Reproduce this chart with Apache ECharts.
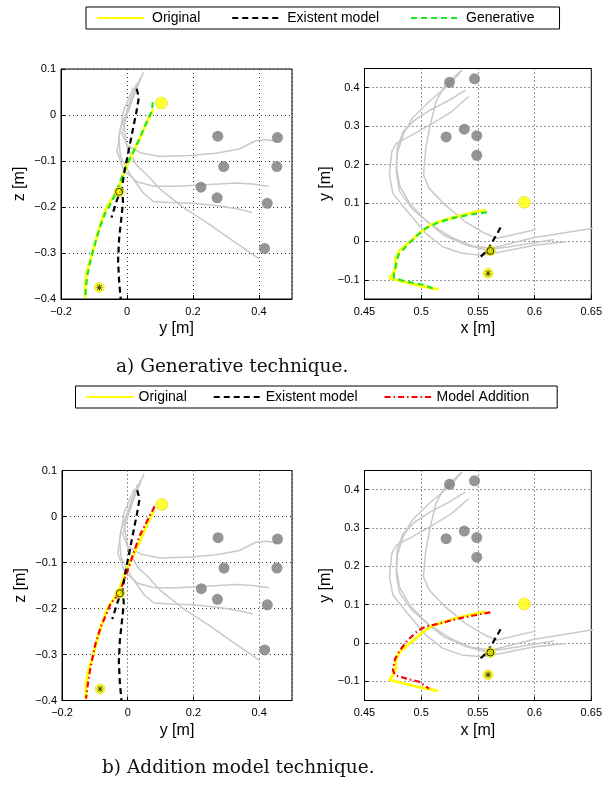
<!DOCTYPE html>
<html><head><meta charset="utf-8">
<script src="https://cdn.jsdelivr.net/npm/echarts@6/dist/echarts.min.js"></script>
<style>html,body{margin:0;padding:0;background:#fff}#c{width:605px;height:785px}</style>
</head><body><div id="c"></div>
<script>
// ---------- Left panels: y [m] vs z [m] ----------
const yzObstacles = [[0.275,-0.046],[0.456,-0.049],[0.293,-0.112],[0.454,-0.112],[0.224,-0.157],[0.273,-0.180],[0.425,-0.192],[0.417,-0.290]];
const yzStart = [[0.104,0.026]];
const yzGoal = [[-0.084,-0.375]];
const yzVia = [[-0.024,-0.167]];
const yzGray1 = [[0.050,0.093],[0.025,0.050],[0.000,0.000],[-0.015,-0.040],[0.000,-0.065],[0.040,-0.082],[0.100,-0.090],[0.190,-0.088],[0.270,-0.083],[0.340,-0.074],[0.390,-0.056],[0.425,-0.054],[0.456,-0.058]];
const yzGray2 = [[0.030,0.070],[0.005,0.020],[-0.020,-0.030],[-0.030,-0.080],[-0.010,-0.120],[0.030,-0.145],[0.080,-0.155],[0.150,-0.155],[0.250,-0.151],[0.330,-0.148],[0.380,-0.150],[0.429,-0.155]];
const yzGray3 = [[0.020,0.060],[-0.010,0.010],[-0.025,-0.050],[-0.020,-0.090],[0.010,-0.130],[0.050,-0.170],[0.080,-0.188],[0.130,-0.190],[0.200,-0.192],[0.280,-0.198],[0.340,-0.205],[0.380,-0.212]];
const yzGray4 = [[0.040,0.080],[0.010,0.030],[-0.010,-0.020],[0.000,-0.070],[0.030,-0.110],[0.060,-0.130],[0.100,-0.161],[0.170,-0.201],[0.240,-0.233],[0.320,-0.273],[0.400,-0.312]];
const yzOriginal = [[0.080,0.013],[0.060,-0.016],[0.040,-0.049],[0.019,-0.081],[0.004,-0.103],[-0.011,-0.128],[-0.026,-0.161],[-0.042,-0.179],[-0.062,-0.201],[-0.077,-0.230],[-0.092,-0.266],[-0.108,-0.309],[-0.121,-0.338],[-0.127,-0.367],[-0.127,-0.396]];
const yzExistent = [[0.029,0.057],[0.036,0.038],[0.029,0.009],[0.019,-0.027],[0.009,-0.063],[-0.001,-0.099],[-0.009,-0.128],[-0.015,-0.157],[-0.012,-0.190],[-0.018,-0.230],[-0.024,-0.270],[-0.027,-0.317],[-0.024,-0.360],[-0.019,-0.401]];
const yzExistentBranch = [[-0.015,-0.157],[-0.031,-0.186],[-0.047,-0.223]];
const yzGenerative = [[0.078,0.028],[0.076,0.010],[0.055,-0.023],[0.035,-0.056],[0.014,-0.088],[-0.003,-0.110],[-0.016,-0.136],[-0.031,-0.164],[-0.047,-0.190],[-0.067,-0.215],[-0.082,-0.244],[-0.097,-0.280],[-0.111,-0.317],[-0.121,-0.353],[-0.127,-0.396]];
const yzAddition = [[0.082,0.022],[0.060,-0.008],[0.035,-0.044],[0.019,-0.077],[0.004,-0.109],[-0.011,-0.138],[-0.026,-0.168],[-0.052,-0.189],[-0.062,-0.207],[-0.082,-0.240],[-0.098,-0.276],[-0.113,-0.327],[-0.121,-0.363],[-0.127,-0.396]];

// ---------- Right panels: x [m] vs y [m] ----------
const xyObstacles = [[0.525,0.414],[0.547,0.423],[0.538,0.292],[0.522,0.272],[0.549,0.275],[0.549,0.224]];
const xyStart = [[0.591,0.102]];
const xyGoal = [[0.559,-0.083]];
const xyVia = [[0.561,-0.025]];
const xyGray1 = [[0.536,0.446],[0.521,0.407],[0.513,0.364],[0.508,0.303],[0.504,0.242],[0.502,0.173],[0.507,0.138],[0.521,0.095],[0.539,0.051],[0.556,0.021],[0.567,0.008],[0.585,0.020],[0.601,0.031]];
const xyGray2 = [[0.542,0.377],[0.527,0.338],[0.510,0.307],[0.492,0.277],[0.478,0.255],[0.474,0.233],[0.472,0.173],[0.475,0.125],[0.487,0.081],[0.504,0.021],[0.519,-0.014],[0.536,-0.031],[0.553,-0.036],[0.571,-0.027],[0.600,-0.010],[0.628,-0.001]];
const xyGray3 = [[0.539,0.394],[0.525,0.368],[0.508,0.342],[0.494,0.315],[0.484,0.285],[0.479,0.245],[0.478,0.195],[0.481,0.145],[0.490,0.098],[0.505,0.052],[0.520,0.016],[0.540,-0.010],[0.557,-0.022],[0.575,-0.015],[0.617,0.005]];
const xyGray4 = [[0.536,0.446],[0.526,0.411],[0.507,0.364],[0.492,0.320],[0.484,0.277],[0.479,0.230],[0.478,0.180],[0.481,0.130],[0.492,0.085],[0.508,0.045],[0.527,0.010],[0.545,-0.012],[0.562,-0.018],[0.600,0.010],[0.655,0.036]];
const xyOriginal = [[0.557,0.082],[0.545,0.075],[0.530,0.064],[0.519,0.054],[0.509,0.044],[0.500,0.025],[0.490,-0.001],[0.481,-0.023],[0.477,-0.049],[0.478,-0.066],[0.475,-0.084],[0.472,-0.096],[0.484,-0.105],[0.499,-0.116],[0.515,-0.125]];
const xyExistent = [[0.570,0.036],[0.566,0.015],[0.562,-0.005],[0.559,-0.020],[0.556,-0.028],[0.564,-0.032],[0.562,-0.022],[0.556,-0.030],[0.551,-0.044]];
const xyGenerative = [[0.558,0.076],[0.542,0.069],[0.527,0.060],[0.515,0.049],[0.504,0.034],[0.497,0.017],[0.488,-0.009],[0.480,-0.035],[0.478,-0.057],[0.476,-0.084],[0.476,-0.096],[0.487,-0.105],[0.502,-0.113],[0.512,-0.125]];
const xyAddition = [[0.561,0.080],[0.550,0.074],[0.533,0.064],[0.515,0.050],[0.504,0.043],[0.497,0.032],[0.488,0.007],[0.481,-0.020],[0.477,-0.041],[0.475,-0.071],[0.477,-0.084],[0.487,-0.093],[0.498,-0.101],[0.507,-0.119]];

// ---------- Ticks and text ----------
const xyYTicks = [-0.1, 0, 0.1, 0.2, 0.3, 0.4];
const legendTop = ['Original','Existent model','Generative'];
const legendBottom = ['Original','Existent model','Model Addition'];
const captions = ['a) Generative technique.','b) Addition model technique.'];
const axisNames = {yz:['y [m]','z [m]'], xy:['x [m]','y [m]']};

const FONT = 'Liberation Sans';
const fmt = v => { const r = Math.round(v*1000)/1000; return String(r).replace('-', '\u2212'); };
const STAR = 'path://M9,0H11V20H9Z M0,9H20V11H0Z M2.2,3.6L3.6,2.2L17.8,16.4L16.4,17.8Z M16.4,2.2L17.8,3.6L3.6,17.8L2.2,16.4Z';

const grids = [
  {left:61, top:69, width:231, height:230},
  {left:364.5, top:68.5, width:231, height:230.5},
  {left:62, top:470.5, width:230, height:230},
  {left:364.5, top:470.5, width:231, height:230}
];
grids.forEach(g => Object.assign(g, {show:true, borderColor:'#000', borderWidth:1, containLabel:false}));

function xAx(gi, min, max, interval, name) {
  return {type:'value', gridIndex:gi, min, max, interval, name, nameLocation:'middle', nameGap:22,
    nameTextStyle:{fontSize:16, color:'#000', fontFamily:FONT},
    axisLine:{show:true, onZero:false, lineStyle:{color:'#000', width:1}},
    axisTick:{show:true, inside:true, length:4, lineStyle:{color:'#000'}},
    axisLabel:{color:'#000', fontSize:11, fontFamily:FONT, margin:7, formatter:fmt},
    splitLine:{show:true, lineStyle:{color:'#333', type:[1,3], width:1}}};
}
function yAx(gi, min, max, interval, name, gap) {
  const a = xAx(gi, min, max, interval, name);
  a.nameGap = gap; a.axisLabel.margin = 5;
  return a;
}

const xAxis = [
  xAx(0,-0.2,0.5,0.2,axisNames.yz[0]),
  xAx(1,0.45,0.65,0.05,axisNames.xy[0]),
  xAx(2,-0.2,0.5,0.2,axisNames.yz[0]),
  xAx(3,0.45,0.65,0.05,axisNames.xy[0])
];
xAxis[0].axisLabel.showMaxLabel = false;
xAxis[2].axisLabel.showMaxLabel = false;
const yAxis = [
  yAx(0,-0.4,0.1,0.1,axisNames.yz[1],33),
  yAx(1,-0.15,0.45,0.05,axisNames.xy[1],31),
  yAx(2,-0.4,0.1,0.1,axisNames.yz[1],33),
  yAx(3,-0.15,0.45,0.05,axisNames.xy[1],31)
];
[1,3].forEach(i => {
  yAxis[i].axisLabel.customValues = xyYTicks;
  yAxis[i].axisTick.customValues = xyYTicks;
  yAxis[i].splitLine.customValues = xyYTicks;
});

function line(name, data, g, color, width, dash, z) {
  return {type:'line', name, data, xAxisIndex:g, yAxisIndex:g, symbol:'none', showSymbol:false,
    lineStyle:{color, width, type:dash || 'solid'}, itemStyle:{color}, z, silent:true, clip:true};
}
function dots(data, g, size, color, border, bw, z, symbol) {
  return {type:'scatter', data, xAxisIndex:g, yAxisIndex:g, symbol:symbol || 'circle', symbolSize:size,
    itemStyle:{color, borderColor:border, borderWidth:bw}, z, silent:true, clip:false};
}

const GRAY = '#c9c9c9', OBST = '#7a7a7a', YEL = '#ffff00';
const DASH = [6,4], DASHDOT = [6,3,1.5,3];

const series = [];
function panel(g, d) {
  d.gray.forEach(a => series.push(line('', a, g, GRAY, 1.5, null, 1)));
  series.push(dots(d.obst, g, 11, OBST, OBST, 0, 2));
  series.push(line('Original', d.orig, g, YEL, 2.8, null, 3));
  series.push(line(d.thirdName, d.third, g, d.thirdColor, 2.2, d.thirdDash, 4));
  d.exist.forEach(a => series.push(line('Existent model', a, g, '#000', 2.2, DASH, 5)));
  series.push(dots(d.start, g, 12, YEL, '#d0d000', 0.6, 6));
  series.push(dots(d.goal, g, 10, YEL, '#d0d000', 0.6, 6));
  series.push(dots(d.goal, g, 7, '#000', '#000', 0, 7, STAR));
  series.push(dots(d.via, g, 10, YEL, '#d0d000', 0.6, 6));
  series.push(dots(d.via, g, 7, 'rgba(0,0,0,0)', '#000', 1, 7));
}
const yzBase = {gray:[yzGray1,yzGray2,yzGray3,yzGray4], obst:yzObstacles, orig:yzOriginal, exist:[yzExistent,yzExistentBranch], start:yzStart, goal:yzGoal, via:yzVia};
const xyBase = {gray:[xyGray1,xyGray2,xyGray3,xyGray4], obst:xyObstacles, orig:xyOriginal, exist:[xyExistent], start:xyStart, goal:xyGoal, via:xyVia};
panel(0, Object.assign({}, yzBase, {third:yzGenerative, thirdName:'Generative', thirdColor:'#1ee81e', thirdDash:DASH}));
panel(1, Object.assign({}, xyBase, {third:xyGenerative, thirdName:'Generative', thirdColor:'#1ee81e', thirdDash:DASH}));
panel(2, Object.assign({}, yzBase, {third:yzAddition, thirdName:'Model Addition', thirdColor:'#ff0000', thirdDash:DASHDOT}));
panel(3, Object.assign({}, xyBase, {third:xyAddition, thirdName:'Model Addition', thirdColor:'#ff0000', thirdDash:DASHDOT}));

function legend(data, left, top, gap, textPad, rightPad) {
  return {data, left, top, orient:'horizontal', itemWidth:47, itemHeight:14, itemGap:gap,
    padding:[4,rightPad,4,10], borderColor:'#000', borderWidth:1, backgroundColor:'#fff', selectedMode:false,
    itemStyle:{opacity:0, borderWidth:0},
    textStyle:{fontSize:14, fontFamily:FONT, color:'#000', padding:[0,0,0,textPad]}};
}

const chart = echarts.init(document.getElementById('c'), null, {renderer:'canvas'});
chart.setOption({
  animation:false,
  backgroundColor:'#fff',
  title:[
    {text:captions[0], left:116, top:358, padding:0, textStyle:{fontFamily:'DejaVu Serif', fontSize:18.5, fontWeight:'normal', color:'#111'}},
    {text:captions[1], left:102, top:759, padding:0, textStyle:{fontFamily:'DejaVu Serif', fontSize:18.5, fontWeight:'normal', color:'#111'}}
  ],
  legend:[legend(legendTop, 86, 7, 31, 3, 25), legend(legendBottom, 75.5, 386, 26, 0, 28)],
  grid:grids, xAxis, yAxis, series
});
</script></body></html>
